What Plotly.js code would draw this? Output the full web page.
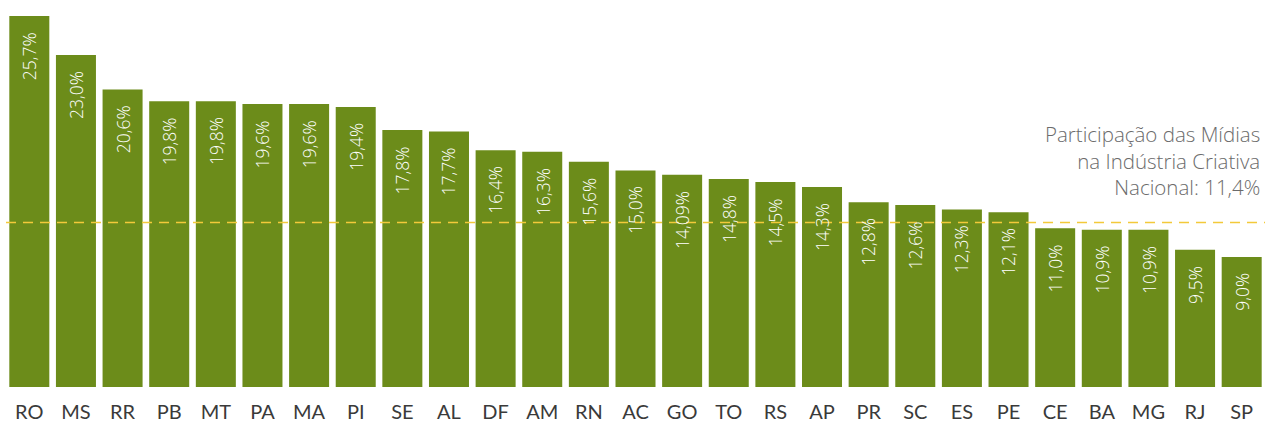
<!DOCTYPE html>
<html>
<head>
<meta charset="utf-8">
<script src="https://cdn.plot.ly/plotly-3.0.1.min.js"></script>
<style>html,body{margin:0;padding:0;background:#fff;}#chart{width:1265px;height:425px;}</style>
</head>
<body>
<div id="chart"></div>
<script>
const states = ['RO','MS','RR','PB','MT','PA','MA','PI','SE','AL','DF','AM','RN','AC','GO','TO','RS','AP','PR','SC','ES','PE','CE','BA','MG','RJ','SP'];
const shares = [25.7,23.0,20.6,19.8,19.8,19.6,19.6,19.4,17.8,17.7,16.4,16.3,15.6,15.0,14.7,14.4,14.2,13.85,12.8,12.6,12.3,12.1,11.0,10.9,10.9,9.5,9.0];
const shareLabels = ['25,7%','23,0%','20,6%','19,8%','19,8%','19,6%','19,6%','19,4%','17,8%','17,7%','16,4%','16,3%','15,6%','15,0%','14,09%','14,8%','14,5%','14,3%','12,8%','12,6%','12,3%','12,1%','11,0%','10,9%','10,9%','9,5%','9,0%'];
const nationalShare = 11.4;
const nationalNote = 'Participação das Mídias<br>na Indústria Criativa<br>Nacional: 11,4%';

const barColor = '#6c8c1a';
const fam = '"Open Sans", Lato, sans-serif';
const labelFont = {family: fam, size: 17.5, color: '#ffffff', weight: 300};

const annotations = states.map((s, i) => ({
  x: s, y: shares[i], xref: 'x', yref: 'y',
  text: shareLabels[i], textangle: -90, showarrow: false,
  xanchor: 'center', yanchor: 'top', yshift: -14,
  font: labelFont
}));
annotations.push({
  xref: 'paper', yref: 'y', x: 0.998, y: nationalShare, yshift: 19,
  xanchor: 'right', yanchor: 'bottom', align: 'right', showarrow: false,
  text: nationalNote,
  font: {family: fam, size: 20.5, color: '#6b6b6b', weight: 300}
});

Plotly.newPlot('chart', [{
  type: 'bar', x: states, y: shares,
  marker: {color: barColor, line: {width: 0}},
  hoverinfo: 'none'
}], {
  width: 1265, height: 425,
  margin: {l: 6, r: 0, t: 16, b: 38, pad: 0},
  paper_bgcolor: '#ffffff', plot_bgcolor: '#ffffff',
  bargap: 0.142,
  showlegend: false,
  xaxis: {
    type: 'category', showgrid: false, zeroline: false, showline: false,
    ticks: '', tickfont: {family: 'Lato, "Open Sans", sans-serif', size: 20, color: '#3a3a3a'},
    ticklabelstandoff: 11
  },
  yaxis: {range: [0, 25.7], visible: false, showgrid: false, zeroline: false, fixedrange: true},
  shapes: [{
    type: 'line', xref: 'paper', yref: 'y', x0: 0, x1: 1, y0: nationalShare, y1: nationalShare,
    line: {color: '#f3c93a', width: 1.5, dash: '10px,7px'}, layer: 'above'
  }],
  annotations: annotations
}, {displayModeBar: false, staticPlot: true});
</script>
</body>
</html>
